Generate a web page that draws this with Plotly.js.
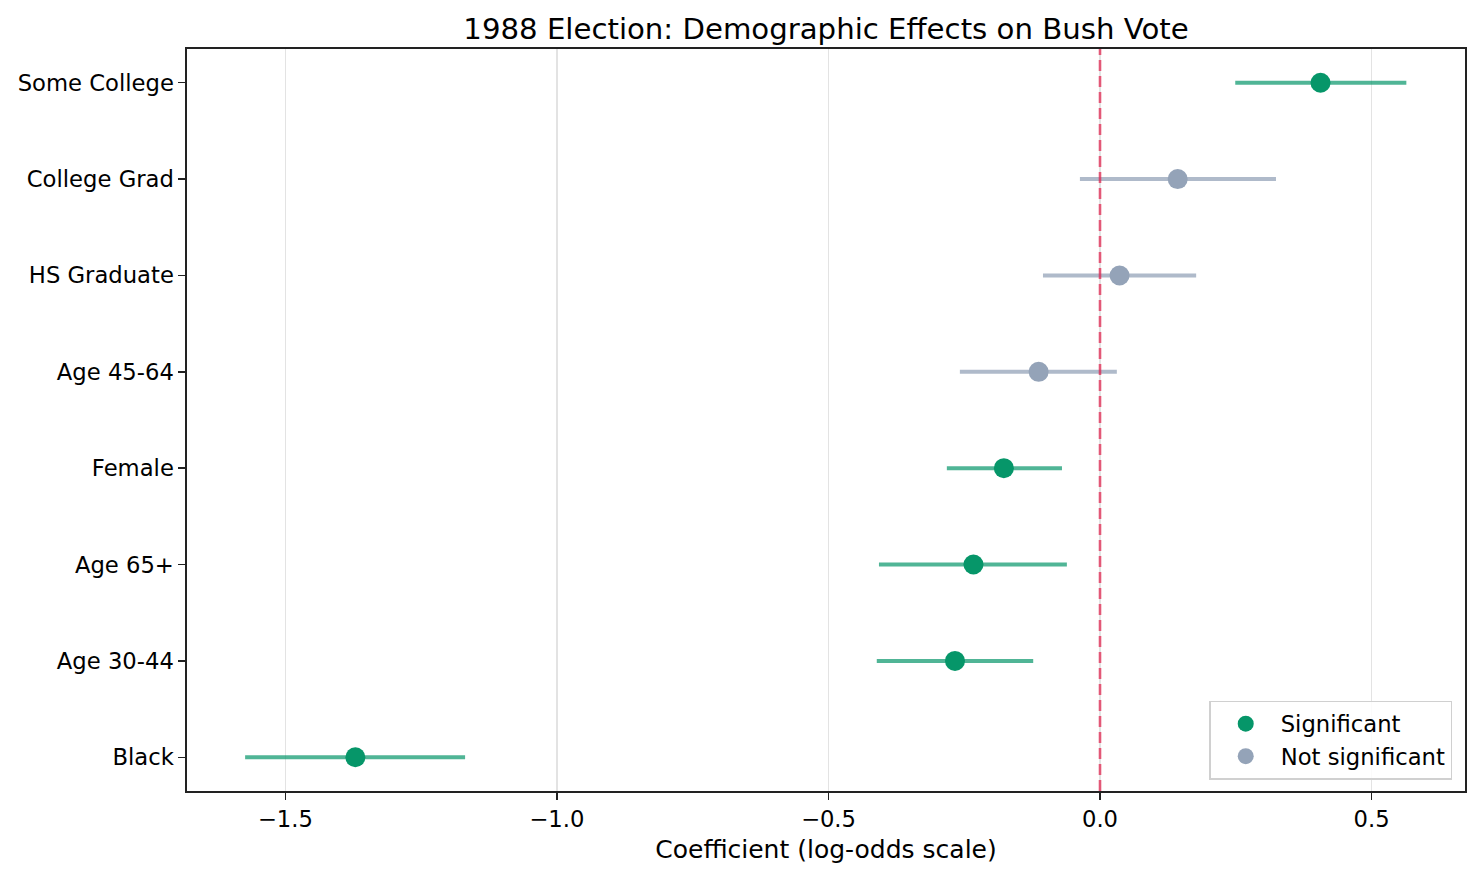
<!DOCTYPE html>
<html>
<head>
<meta charset="utf-8">
<script src="https://cdn.plot.ly/plotly-3.0.1.min.js"></script>
<style>
  html, body { margin: 0; padding: 0; background: #fff; }
  #chart { width: 1479px; height: 877px; }
</style>
</head>
<body>
<div id="chart"></div>
<script>
// Coefficients, bottom row first
const labels = ['Black', 'Age 30-44', 'Age 65+', 'Female', 'Age 45-64', 'HS Graduate', 'College Grad', 'Some College'];
const coef   = [-1.371, -0.267, -0.233, -0.177, -0.113, 0.036, 0.143, 0.406];
const ciLow  = [-1.574, -0.411, -0.407, -0.282, -0.258, -0.105, -0.037, 0.249];
const ciHigh = [-1.169, -0.123, -0.061, -0.070, 0.031, 0.177, 0.324, 0.564];
const significant = [true, true, true, true, false, false, false, true];

const xTicks = [-1.5, -1.0, -0.5, 0.0, 0.5];
const xTickText = ['\u22121.5', '\u22121.0', '\u22120.5', '0.0', '0.5'];

const GREEN = '#069669';
const GREEN_LINE = 'rgba(6,150,105,0.7)';
const GRAY = '#94a3b8';
const GRAY_LINE = 'rgba(148,163,184,0.75)';
const FONT = 'DejaVu Sans, sans-serif';

function buildGroup(flag, name, color, lineColor) {
    const idx = labels.map((_, i) => i).filter(i => significant[i] === flag);
    return {
        type: 'scatter',
        mode: 'markers',
        name,
        y: idx.map(i => labels[i]),
        x: idx.map(i => coef[i]),
        marker: { color, size: 20 },
        error_x: {
            type: 'data',
            symmetric: false,
            array: idx.map(i => ciHigh[i] - coef[i]),
            arrayminus: idx.map(i => coef[i] - ciLow[i]),
            color: lineColor,
            thickness: 4,
            width: 0
        },
        hoverinfo: 'skip'
    };
}

const traces = [
    buildGroup(true, 'Significant', GREEN, GREEN_LINE),
    buildGroup(false, 'Not significant', GRAY, GRAY_LINE)
];

const layout = {
    width: 1479,
    height: 877,
    paper_bgcolor: '#fff',
    plot_bgcolor: '#fff',
    margin: { l: 187, r: 14, t: 49, b: 86 },
    font: { family: FONT, size: 22.7, color: '#000' },
    title: {
        text: '1988 Election: Demographic Effects on Bush Vote',
        font: { family: FONT, size: 29.2, color: '#000' },
        x: 0.5, xref: 'paper', xanchor: 'center',
        y: 1, yref: 'paper', yanchor: 'bottom', pad: { b: 10 }
    },
    xaxis: {
        range: [-1.681, 0.672],
        tickvals: xTicks,
        ticktext: xTickText,
        showgrid: true,
        gridcolor: '#e3e3e3',
        gridwidth: 1.4,
        zeroline: false,
        showline: true,
        linecolor: '#222',
        linewidth: 1.6,
        mirror: true,
        ticks: 'outside',
        ticklen: 7,
        tickwidth: 1.5,
        tickcolor: '#222',
        tickfont: { family: FONT, size: 22.7 },
        title: { text: 'Coefficient (log-odds scale)', font: { family: FONT, size: 25 }, standoff: 9 }
    },
    yaxis: {
        type: 'category',
        categoryorder: 'array',
        categoryarray: labels,
        range: [-0.35, 7.35],
        showgrid: false,
        zeroline: false,
        showline: true,
        linecolor: '#222',
        linewidth: 1.6,
        mirror: true,
        ticks: 'outside',
        ticklen: 7,
        tickwidth: 1.5,
        tickcolor: '#222',
        tickfont: { family: FONT, size: 22.7 }
    },
    shapes: [
        {
            type: 'line', xref: 'x', yref: 'paper',
            x0: 0, x1: 0, y0: 0, y1: 1,
            line: { color: 'rgba(225,29,72,0.7)', width: 2.6, dash: '11px,5px' },
            layer: 'above'
        }
    ],
    legend: {
        x: 0.990, y: 0.015, xanchor: 'right', yanchor: 'bottom',
        bgcolor: 'rgba(255,255,255,0.85)',
        bordercolor: '#d0d0d0',
        borderwidth: 1.5,
        font: { family: FONT, size: 22.7 },
        itemwidth: 60,
        tracegroupgap: 0
    },
    showlegend: true
};

Plotly.newPlot('chart', traces, layout, { displayModeBar: false, staticPlot: true });
</script>
</body>
</html>
